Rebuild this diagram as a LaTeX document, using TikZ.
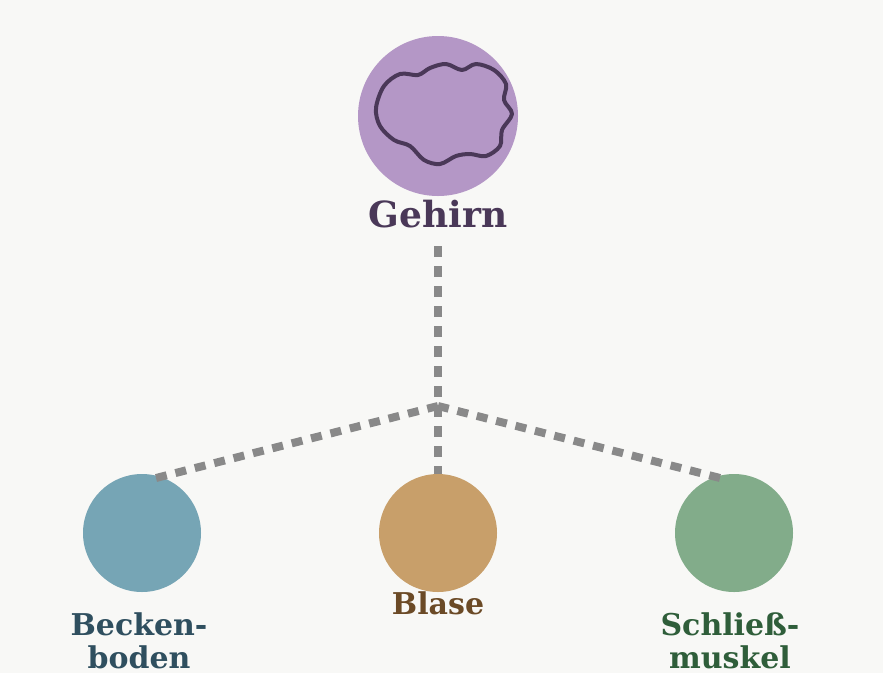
\documentclass[tikz,border=0pt]{standalone}
\usepackage{fontspec}
\setmainfont{DejaVu Serif}
\begin{document}
\begin{tikzpicture}[x=1pt,y=-1pt,
  conn/.style={line width=8pt, dash pattern=on 11pt off 9pt},
  lbl/.style={font=\fontsize{30}{33}\selectfont\bfseries, align=center},
  dot/.style={circle, inner sep=0pt, minimum size=118pt}]
\useasboundingbox[fill={rgb,255:red,248;green,248;blue,246}] (0,0) rectangle (883,673);
\definecolor{gc}{RGB}{137,137,137}
\node[circle, fill={rgb,255:red,180;green,151;blue,198}, minimum size=160pt, inner sep=0pt] (brain) at (438,116) {};
\draw[line width=4pt, draw={rgb,255:red,74;green,56;blue,88}, line join=round]
  plot[smooth cycle, tension=0.55] coordinates {(376,108) (384,86) (400,74) (418,75) (430,68) (446,64) (462,70) (476,64) (494,70) (506,84) (504,100) (512,114) (502,130) (500,146) (486,156) (470,154) (456,156) (440,164) (424,160) (410,146) (394,140) (380,126)};
\node[lbl, text={rgb,255:red,74;green,56;blue,88}, font=\fontsize{36}{40}\selectfont\bfseries] (tg) at (438,214) {Gehirn};
\coordinate (hub) at (438,406);
\coordinate (top) at (438,246);
\node[dot, fill={rgb,255:red,118;green,165;blue,181}] (a) at (142,533) {};
\node[dot, fill={rgb,255:red,200;green,159;blue,106}] (b) at (438,533) {};
\node[dot, fill={rgb,255:red,130;green,172;blue,138}] (c) at (734,533) {};
\draw[conn, color=gc] (top) -- (hub);
\draw[conn, color=gc] (hub) -- (156,478);
\draw[conn, color=gc] (hub) -- (438,474);
\draw[conn, color=gc] (hub) -- (720,478);
\node[lbl, text={rgb,255:red,47;green,79;blue,95}] (la) at (139,641) {Becken-\\boden};
\node[lbl, text={rgb,255:red,107;green,74;blue,38}] (lb) at (438,603) {Blase};
\node[lbl, text={rgb,255:red,47;green,94;blue,58}] (lc) at (730,641) {Schließ-\\muskel};
\end{tikzpicture}
\end{document}
